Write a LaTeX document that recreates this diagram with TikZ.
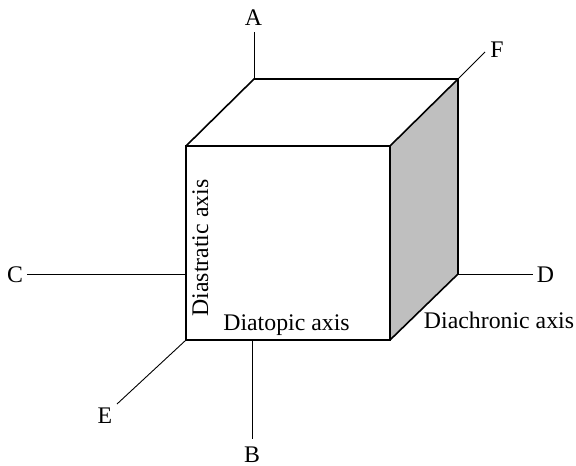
\documentclass[tikz,border=0pt]{standalone}
\usepackage{fontspec}
\usepackage{xcolor}
\usetikzlibrary{positioning,calc}
\setmainfont{Liberation Serif}
\begin{document}
\begin{tikzpicture}[
  x=1pt, y=-1pt,
  edge/.style={line width=1.6pt, line join=miter},
  axisline/.style={line width=0.9pt},
  lab/.style={font=\fontsize{23.8}{26}\selectfont, inner sep=0pt, anchor=base}
]
\useasboundingbox (0,0) rectangle (576,466);
\coordinate (ftl) at (186,146);
\coordinate (ftr) at (390,146);
\coordinate (fbl) at (186,340);
\coordinate (fbr) at (390,340);
\coordinate (btl) at (254,79);
\coordinate (btr) at (458,79);
\coordinate (bbr) at (458,274);
% shaded side
\fill[gray!50] (ftr) -- (btr) -- (bbr) -- (fbr) -- cycle;
\draw[edge] (ftl) rectangle (fbr);
\draw[edge] (ftl) -- (btl) -- (btr) -- (bbr) -- (fbr);
\draw[edge] (ftr) -- (btr);
% labels
\node[lab] (a) at (253.5,25) {A};
\node[lab] (b) at (252,462.5) {B};
\node[lab] (c) at (15,282) {C};
\node[lab] (d) at (545.5,282) {D};
\node[lab] (e) at (105,423) {E};
\node[lab] (f) at (497,57) {F};
\node[lab] (diatopic) at (286.5,330) {Diatopic axis};
\node[lab] (diachronic) at (499,328) {Diachronic axis};
\node[lab, rotate=90] (diastratic) at (208,248) {Diastratic axis};
% axes
\coordinate (aend) at (254,32);
\coordinate (btop) at (252,340);
\coordinate (bend) at (252,439);
\coordinate (cend) at (27,274);
\coordinate (cface) at (186,274);
\coordinate (dend) at (533,274);
\coordinate (eend) at (117,404);
\coordinate (fend) at (485,52);
\draw[axisline] (aend) -- (btl);
\draw[axisline] (btop) -- (bend);
\draw[axisline] (cend) -- (cface);
\draw[axisline] (bbr) -- (dend);
\draw[axisline] (fbl) -- (eend);
\draw[axisline] (btr) -- (fend);
\end{tikzpicture}
\end{document}
